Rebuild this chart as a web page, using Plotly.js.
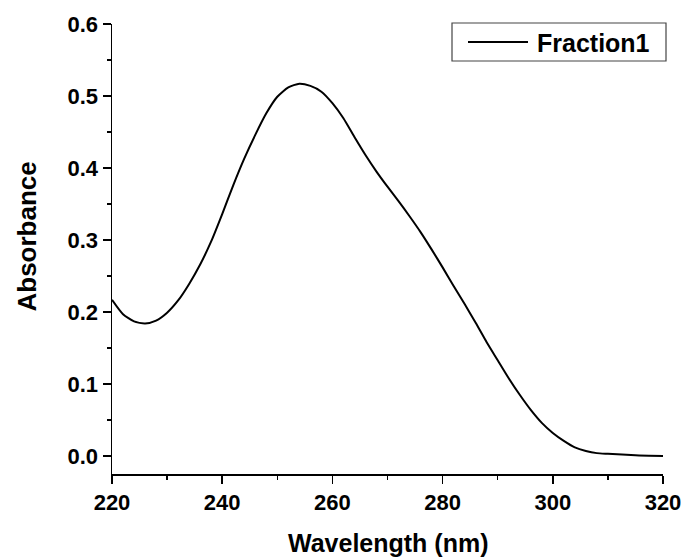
<!DOCTYPE html>
<html>
<head>
<meta charset="utf-8">
<script src="https://cdn.plot.ly/plotly-3.0.1.min.js"></script>
<style>html,body{margin:0;padding:0;background:#fff;}#chart{width:688px;height:557px;}</style>
</head>
<body>
<div id="chart"></div>
<script>
const seriesName = "Fraction1";
const xTitle = "Wavelength (nm)";
const yTitle = "Absorbance";
const wavelength = [220,222,224,226,228,230,232,234,236,238,240,242,244,246,248,250,252,254,256,258,260,262,264,266,268,270,272,274,276,278,280,282,284,286,288,290,292,294,296,298,300,302,304,306,308,310,315,320];
const absorbance = [0.217,0.197,0.187,0.184,0.188,0.199,0.216,0.239,0.266,0.298,0.336,0.376,0.413,0.446,0.476,0.499,0.512,0.517,0.514,0.506,0.490,0.469,0.443,0.418,0.395,0.374,0.354,0.333,0.311,0.287,0.262,0.236,0.211,0.185,0.158,0.133,0.108,0.085,0.064,0.046,0.032,0.021,0.012,0.007,0.004,0.003,0.001,0.000];
const xTicks = [220,240,260,280,300,320];
const yTicks = [0.0,0.1,0.2,0.3,0.4,0.5,0.6];
const yTickLabels = ["0.0","0.1","0.2","0.3","0.4","0.5","0.6"];

const W = 688, H = 557;
const M = {l: 112, r: 25, t: 24, b: 83};
const pw = W - M.l - M.r, ph = H - M.t - M.b;
const px = v => (v - M.l) / pw;          // page pixel -> paper x
const py = v => (H - M.b - v) / ph;      // page pixel -> paper y

const font = "Liberation Sans, Arial, sans-serif";
const trace = {
  x: wavelength, y: absorbance, type: "scatter", mode: "lines", name: seriesName,
  line: {color: "#000", width: 2, shape: "spline", smoothing: 0.6}
};
const layout = {
  width: W, height: H,
  margin: M,
  paper_bgcolor: "#fff", plot_bgcolor: "#fff",
  showlegend: false,
  xaxis: {
    range: [220, 320], tickvals: xTicks, ticktext: xTicks.map(String),
    showgrid: false, zeroline: false, showline: true, linecolor: "#000", linewidth: 1.5,
    ticks: "outside", ticklen: 8, tickwidth: 1.5, tickcolor: "#000",
    minor: {dtick: 10, tick0: 230, ticks: "outside", ticklen: 4, tickwidth: 1.5, tickcolor: "#000", showgrid: false},
    tickfont: {family: font, size: 22, color: "#000", weight: "bold"}
  },
  yaxis: {
    range: [-0.025, 0.6], tickvals: yTicks, ticktext: yTickLabels,
    showgrid: false, zeroline: false, showline: true, linecolor: "#000", linewidth: 1.5,
    ticks: "outside", ticklen: 8, tickwidth: 1.5, tickcolor: "#000",
    minor: {dtick: 0.1, tick0: 0.05, ticks: "outside", ticklen: 4, tickwidth: 1.5, tickcolor: "#000", showgrid: false},
    tickfont: {family: font, size: 22, color: "#000", weight: "bold"}
  },
  shapes: [
    {type: "rect", xref: "paper", yref: "paper", x0: px(452), x1: px(666), y0: py(61), y1: py(23),
      line: {color: "#444", width: 1.2}, fillcolor: "#fff", layer: "above"},
    {type: "line", xref: "paper", yref: "paper", x0: px(468), x1: px(528), y0: py(42), y1: py(42),
      line: {color: "#000", width: 2}, layer: "above"}
  ],
  annotations: [
    {text: seriesName, xref: "paper", yref: "paper", x: px(535), y: py(43), xanchor: "left", yanchor: "middle",
      showarrow: false, font: {family: font, size: 25, color: "#000", weight: "bold"}},
    {text: xTitle, xref: "paper", yref: "paper", x: px(388), y: py(543), xanchor: "center", yanchor: "middle",
      showarrow: false, font: {family: font, size: 25, color: "#000", weight: "bold"}},
    {text: yTitle, xref: "paper", yref: "paper", x: px(26), y: py(236.5), xanchor: "center", yanchor: "middle",
      textangle: -90, showarrow: false, font: {family: font, size: 26, color: "#000", weight: "bold"}}
  ]
};
Plotly.newPlot("chart", [trace], layout, {displayModeBar: false, staticPlot: true});
</script>
</body>
</html>
